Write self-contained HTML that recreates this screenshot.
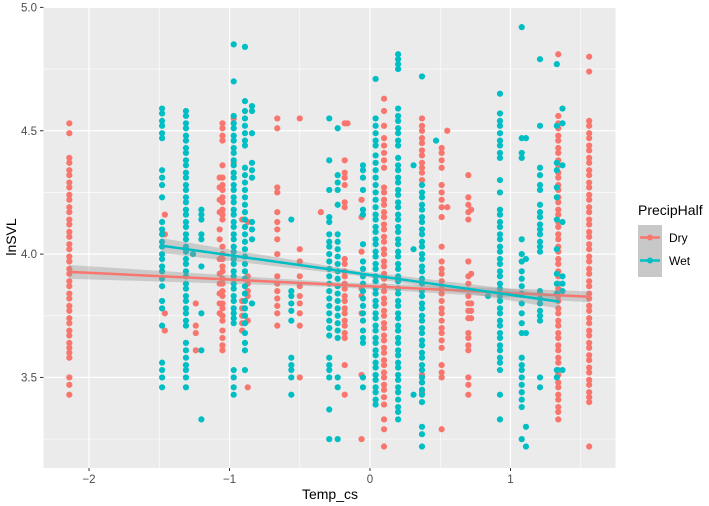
<!DOCTYPE html>
<html><head><meta charset="utf-8"><style>
html,body{margin:0;padding:0;background:#fff;}
svg{display:block;font-family:"Liberation Sans",Arial,sans-serif;}
</style></head><body>
<svg id="chart" width="709" height="506" viewBox="0 0 709 506" xmlns="http://www.w3.org/2000/svg">
<rect x="43.5" y="7" width="572" height="461" fill="#ebebeb"/>
<g id="grid"></g>
<g id="pts"></g>
<g id="fits"></g>
<g id="axes"></g>
<text x="330" y="499" font-size="14" text-anchor="middle" fill="#000">Temp_cs</text>
<text transform="translate(16,237) rotate(-90)" font-size="14" text-anchor="middle" fill="#000">lnSVL</text>
<g>
<text x="638" y="215" font-size="14" fill="#000">PrecipHalf</text>
<rect x="638" y="225" width="24" height="52" fill="#c8c8c8"/>
<g>
<line x1="640" y1="237.5" x2="660" y2="237.5" stroke="#F8766D" stroke-width="2.5"/>
<circle cx="650" cy="237.5" r="3" fill="#F8766D"/>
<text x="669" y="242" font-size="12" fill="#000">Dry</text></g>
<g>
<line x1="640" y1="260.5" x2="660" y2="260.5" stroke="#00BFC4" stroke-width="2.5"/>
<circle cx="650" cy="260.5" r="3" fill="#00BFC4"/>
<text x="669" y="265" font-size="12" fill="#000">Wet</text></g>
</g>
</svg>
<script>
const xTicks=[-2,-1,0,1];
const yTicks=[3.5,4.0,4.5,5.0];
const yTickLabels=["3.5","4.0","4.5","5.0"];
const xMinor=[-1.5,-0.5,0.5,1.5];
const yMinor=[3.25,3.75,4.25,4.75];
// Dry columns: x values and y observations
const dryX=[-2.14,-1.46,-1.24,-1.05,-1.07,-0.97,-0.91,-0.87,-0.66,-0.50,-0.35,-0.18,-0.16,-0.06,0.10,0.37,0.51,0.55,0.70,0.72,1.34,1.56];
const dryY=[
[4.53,4.49,4.39,4.37,4.34,4.32,4.29,4.27,4.24,4.22,4.19,4.17,4.14,4.12,4.09,4.07,4.04,4.02,3.99,3.97,3.94,3.92,3.89,3.87,3.84,3.82,3.79,3.77,3.74,3.72,3.69,3.67,3.64,3.62,3.60,3.58,3.50,3.47,3.43],
[4.16,4.08,3.76,3.69],
[3.80,3.71,3.68,3.61],
[4.53,4.51,4.48,4.46,4.36,4.31,4.28,4.26,4.23,4.21,4.18,4.16,4.14,4.03,4.00,3.98,3.95,3.93,3.90,3.88,3.85,3.83,3.80,3.78,3.75,3.73,3.69,3.66,3.63,3.61],
[4.31,4.27,4.22,4.17,4.10,4.06,3.98,3.92,3.88,3.84,3.80,3.76],
[4.55,4.37],
[4.14,3.81,3.78,3.75,3.72,3.69],
[4.13,3.91,3.88,3.85,3.83,3.73,3.46],
[4.55,4.51,4.27,4.25,4.17,4.13,4.10,4.06,4.00,3.91,3.88,3.85,3.82,3.79,3.76,3.71],
[4.55,4.02,3.97,3.91,3.87,3.83,3.80,3.76,3.71,3.50],
[4.17],
[4.53,4.38,4.33,4.31,4.28,4.21,4.19,3.98,3.96,3.93,3.91,3.88,3.86,3.83,3.81,3.78,3.76,3.73,3.71,3.68,3.66,3.55,3.43],
[4.53],
[4.22,4.15,4.01,3.86,3.83,3.76,3.51,3.25],
[4.63,4.58,4.52,4.47,4.44,4.41,4.38,4.35,4.27,4.25,4.22,4.20,4.17,4.15,4.12,4.10,4.07,4.05,4.02,4.00,3.97,3.95,3.92,3.90,3.87,3.85,3.82,3.80,3.77,3.75,3.72,3.70,3.67,3.65,3.62,3.60,3.57,3.55,3.52,3.50,3.47,3.45,3.42,3.39,3.33,3.29,3.22],
[4.55,4.52,4.50,4.47,4.45,4.42,4.40,4.37,4.35,4.33,4.30,3.51,3.48,3.44],
[4.43,4.41,4.38,4.35,4.28,4.25,4.22,4.19,4.15,4.03,3.97,3.94,3.92,3.89,3.86,3.84,3.81,3.78,3.76,3.73,3.70,3.68,3.65,3.62,3.55,3.52,3.50,3.29],
[4.50,4.19],
[4.32,4.23,4.20,4.17,4.14,3.97,3.91,3.88,3.83,3.80,3.77,3.74,3.68,3.66,3.63,3.61,3.50,3.47,3.43],
[4.18,3.92,3.80,3.77,3.74],
[4.81,4.56,4.53,4.51,4.48,4.46,4.43,4.41,4.38,4.36,4.33,4.31,4.28,4.26,4.23,4.21,4.18,4.16,4.13,4.11,4.08,4.06,4.03,4.01,3.98,3.96,3.93,3.91,3.88,3.86,3.83,3.81,3.78,3.76,3.73,3.71,3.68,3.66,3.63,3.61,3.58,3.56,3.53,3.51,3.48,3.46,3.43,3.41,3.38,3.36,3.33],
[4.80,4.74,4.54,4.52,4.49,4.47,4.44,4.42,4.39,4.37,4.34,4.32,4.29,4.27,4.24,4.22,4.19,4.17,4.14,4.12,4.09,4.07,4.04,4.02,3.99,3.97,3.94,3.92,3.89,3.87,3.84,3.82,3.79,3.77,3.74,3.72,3.69,3.67,3.64,3.62,3.59,3.57,3.54,3.52,3.49,3.47,3.44,3.42,3.40,3.22]
];
// Wet columns
const wetX=[-1.48,-1.31,-1.26,-1.20,-0.97,-0.89,-0.84,-0.56,-0.29,-0.23,-0.05,0.04,0.20,0.31,0.37,0.47,0.84,0.925,1.08,1.11,1.21,1.33,1.37];
const wetY=[
[4.59,4.57,4.54,4.52,4.49,4.47,4.34,4.31,4.28,4.23,4.13,4.10,4.08,4.05,4.03,4.00,3.98,3.95,3.93,3.90,3.87,3.81,3.78,3.71,3.56,3.53,3.50,3.46],
[4.58,4.56,4.53,4.51,4.48,4.46,4.43,4.41,4.38,4.36,4.33,4.31,4.28,4.26,4.23,4.21,4.18,4.16,4.13,4.11,4.08,4.06,4.03,4.01,3.98,3.96,3.93,3.91,3.88,3.86,3.83,3.81,3.78,3.76,3.73,3.71,3.64,3.61,3.58,3.55,3.53,3.50,3.46],
[4.00],
[4.18,4.16,4.14,4.08,4.06,3.95,3.76,3.61,3.33],
[4.85,4.70,4.56,4.53,4.51,4.48,4.46,4.43,4.41,4.38,4.36,4.33,4.31,4.28,4.26,4.23,4.21,4.18,4.16,4.13,4.11,4.08,4.06,4.03,4.01,3.98,3.96,3.93,3.91,3.88,3.86,3.83,3.81,3.78,3.76,3.74,3.72,3.53,3.50,3.46,3.43],
[4.84,4.62,4.58,4.55,4.52,4.49,4.46,4.44,4.35,4.32,4.29,4.26,4.23,4.20,4.17,4.14,4.11,4.08,4.05,4.02,3.99,3.96,3.93,3.90,3.87,3.84,3.81,3.78,3.75,3.72,3.68,3.64,3.61,3.53],
[4.60,4.58,4.49,4.37,4.34,4.31,4.13,4.10,4.06,3.80],
[4.14,3.85,3.83,3.80,3.77,3.73,3.58,3.55,3.53,3.50,3.43],
[4.55,4.38,4.26,4.15,4.13,4.08,4.05,4.03,4.00,3.97,3.94,3.91,3.88,3.85,3.82,3.79,3.76,3.73,3.70,3.67,3.58,3.55,3.53,3.50,3.37,3.25],
[4.51,4.32,4.29,4.26,4.20,4.08,4.05,4.02,3.99,3.96,3.93,3.90,3.87,3.84,3.81,3.78,3.75,3.72,3.69,3.66,3.50,3.46,3.25],
[4.36,4.34,4.31,4.26,4.18,4.16,4.04,3.97,3.94,3.91,3.88,3.85,3.82,3.79,3.76,3.73,3.69,3.66,3.64,3.50,3.46],
[4.71,4.55,4.52,4.49,4.46,4.44,4.40,4.37,4.34,4.31,4.28,4.25,4.22,4.19,4.16,4.14,4.11,4.09,4.06,4.04,4.01,3.99,3.96,3.94,3.91,3.89,3.86,3.84,3.81,3.79,3.76,3.74,3.71,3.69,3.66,3.64,3.61,3.59,3.56,3.54,3.51,3.49,3.46,3.44,3.41,3.39],
[4.81,4.79,4.77,4.75,4.59,4.56,4.54,4.51,4.49,4.46,4.44,4.39,4.36,4.34,4.31,4.29,4.26,4.24,4.21,4.19,4.16,4.14,4.11,4.09,4.06,4.04,4.01,3.99,3.96,3.94,3.91,3.89,3.86,3.84,3.81,3.79,3.76,3.74,3.71,3.69,3.66,3.64,3.61,3.59,3.56,3.54,3.51,3.49,3.46,3.44,3.41,3.38,3.36,3.33],
[4.36,4.02,3.43],
[4.72,4.28,4.25,4.23,4.20,4.18,4.15,4.13,4.10,4.08,4.05,4.03,4.00,3.98,3.95,3.93,3.90,3.88,3.85,3.83,3.80,3.78,3.75,3.73,3.70,3.68,3.65,3.63,3.60,3.58,3.55,3.53,3.50,3.48,3.45,3.43,3.40,3.30,3.27,3.22],
[4.46],
[3.83],
[4.65,4.57,4.54,4.52,4.49,4.46,4.44,4.41,4.39,4.30,4.25,4.18,4.16,4.13,4.11,4.08,4.06,4.03,4.01,3.98,3.96,3.93,3.91,3.88,3.86,3.83,3.81,3.78,3.76,3.73,3.71,3.68,3.66,3.63,3.61,3.58,3.56,3.53,3.43,3.33],
[4.92,4.47,4.41,4.39,4.06,4.00,3.97,3.93,3.90,3.87,3.84,3.80,3.76,3.72,3.68,3.58,3.55,3.53,3.50,3.47,3.44,3.41,3.38,3.25],
[4.47,3.98,3.68,3.30,3.22],
[4.79,4.52,4.35,4.32,4.28,4.26,4.20,4.17,4.15,4.12,4.10,4.08,4.05,4.03,4.01,3.85,3.82,3.80,3.77,3.75,3.73,3.50,3.46],
[4.77,4.52,4.37,4.34,4.27,4.23,4.14,4.02,3.92,3.88,3.84,3.53,3.50],
[4.59,4.53,4.36,4.13,3.91,3.88,3.85,3.53]
];
// regression fits: [xStart, yStart, xEnd, yEnd], CI half-widths at start, middle, end
const dryFit=[-2.14,3.928,1.56,3.827];
const drySE=[0.028,0.010,0.022];
const wetFit=[-1.48,4.034,1.35,3.807];
const wetSE=[0.030,0.010,0.028];

const X=v=>370+v*140.5;
const Y=v=>7.4+(5-v)*246.7;
const NS='http://www.w3.org/2000/svg';
function mk(tag,attrs,parent){const e=document.createElementNS(NS,tag);for(const k in attrs)e.setAttribute(k,attrs[k]);parent.appendChild(e);return e;}
const grid=document.getElementById('grid');
xMinor.forEach(v=>{const l=mk('line',{x1:X(v),x2:X(v),y1:7,y2:468,stroke:'#fff','stroke-width':0.6},grid);

});
yMinor.forEach(v=>{const l=mk('line',{x1:43.5,x2:615.5,y1:Y(v),y2:Y(v),stroke:'#fff','stroke-width':0.6},grid);

});
xTicks.forEach(v=>{const l=mk('line',{x1:X(v),x2:X(v),y1:7,y2:468,stroke:'#fff','stroke-width':1.2},grid);

});
yTicks.forEach(v=>{const l=mk('line',{x1:43.5,x2:615.5,y1:Y(v),y2:Y(v),stroke:'#fff','stroke-width':1.2},grid);

});
const axes=document.getElementById('axes');
xTicks.forEach(v=>{const t=mk('line',{x1:X(v),x2:X(v),y1:468,y2:471,stroke:'#333','stroke-width':1},axes);


const s=mk('text',{x:X(v),y:483,'font-size':11.5,'text-anchor':'middle',fill:'#4d4d4d'},axes);s.textContent=String(v).replace('-','\u2212');

});
yTicks.forEach((v,i)=>{const t=mk('line',{x1:40,x2:43.5,y1:Y(v),y2:Y(v),stroke:'#333','stroke-width':1},axes);


const s=mk('text',{x:37,y:Y(v)+4,'font-size':11.5,'text-anchor':'end',fill:'#4d4d4d'},axes);s.textContent=yTickLabels[i];

});
const pts=document.getElementById('pts');
function drawCols(xs,ys,col,name){xs.forEach((x,i)=>{ys[i].forEach(y=>{const c=mk('circle',{cx:X(x),cy:Y(y),r:3.1,fill:col},pts);

});});}
drawCols(dryX,dryY,'#F8766D','dry-point');
drawCols(wetX,wetY,'#00BFC4','wet-point');
const fits=document.getElementById('fits');
function drawFit(f,se,col,name){const xm=(f[0]+f[2])/2,ym=(f[1]+f[3])/2;
const up=[[f[0],f[1]+se[0]],[xm,ym+se[1]],[f[2],f[3]+se[2]]];
const lo=[[f[2],f[3]-se[2]],[xm,ym-se[1]],[f[0],f[1]-se[0]]];
const d='M'+up.map(p=>X(p[0])+','+Y(p[1])).join(' Q'+X(xm)+','+Y(ym+se[1]*0.3)+' ').replace(/ Q[^ ]+ /g,' L')+' L'+lo.map(p=>X(p[0])+','+Y(p[1])).join(' L')+'Z';
const r=mk('path',{d:d,fill:'#999',opacity:0.4},fits);


const l=mk('line',{x1:X(f[0]),y1:Y(f[1]),x2:X(f[2]),y2:Y(f[3]),stroke:col,'stroke-width':2.5},fits);

}
drawFit(dryFit,drySE,'#F8766D','dry-fit');
drawFit(wetFit,wetSE,'#00BFC4','wet-fit');
</script>
</body></html>
